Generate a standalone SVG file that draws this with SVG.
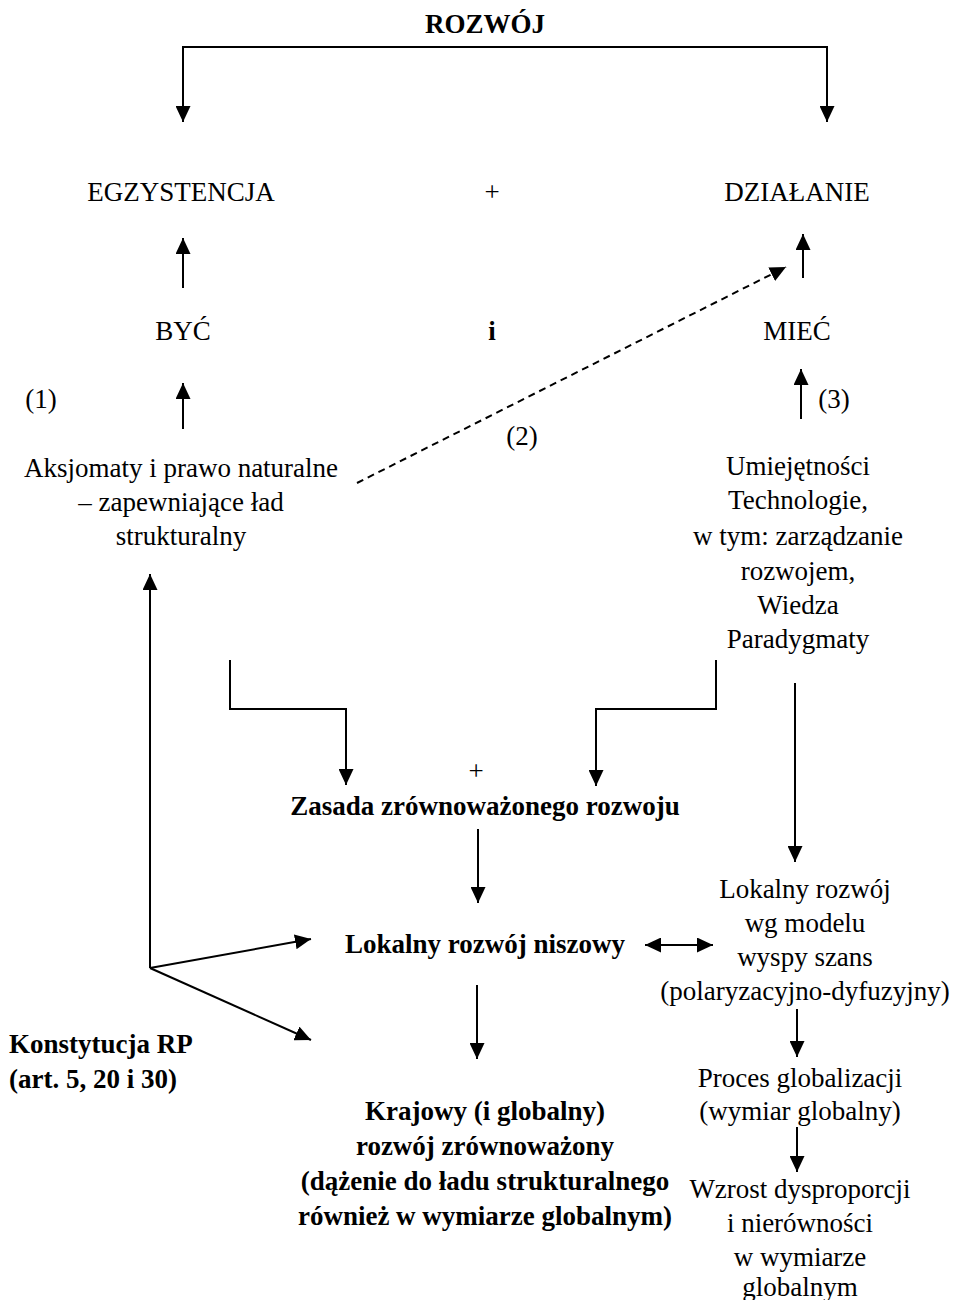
<svg xmlns="http://www.w3.org/2000/svg" width="954" height="1300" viewBox="0 0 954 1300">
<defs>
<marker id="ah" markerUnits="userSpaceOnUse" markerWidth="16" markerHeight="15" viewBox="0 0 16 15" refX="16" refY="7.5" orient="auto-start-reverse">
<path d="M0,0 L16,7.5 L0,15 Z" fill="#000"/>
</marker>
<style>
.t{font-family:"Liberation Serif","Times New Roman",serif;font-size:27px;fill:#000;text-anchor:middle}
.b{font-family:"Liberation Serif","Times New Roman",serif;font-size:27px;font-weight:bold;fill:#000;text-anchor:middle}
.l{fill:none;stroke:#000;stroke-width:2}
.a{fill:none;stroke:#000;stroke-width:2;marker-end:url(#ah)}
</style>
</defs>
<rect width="954" height="1300" fill="#fff"/>
<g id="connectors">
<path class="l" d="M183,47 H827" stroke-width="2.5"/>
<path class="a" d="M183,46 V122"/>
<path class="a" d="M827,46 V122"/>
<path class="a" d="M183,288 V238"/>
<path class="a" d="M803,278 V234"/>
<path class="a" d="M183,429 V383"/>
<path class="a" d="M801,419 V369"/>
<path class="a" d="M357,483 L786,267" stroke-dasharray="7,5"/>
<path class="a" d="M150,968 V574"/>
<path class="l" d="M230,660 V709 H346"/>
<path class="a" d="M346,708 V785"/>
<path class="l" d="M716,660 V709 H596"/>
<path class="a" d="M596,708 V786"/>
<path class="a" d="M795,683 V862"/>
<path class="a" d="M478,829 V903"/>
<path class="a" d="M645,945 H713" marker-start="url(#ah)"/>
<path class="a" d="M150,968 L311,939" stroke-width="1.6"/>
<path class="a" d="M150,968 L311,1040" stroke-width="1.6"/>
<path class="a" d="M477,985 V1059"/>
<path class="a" d="M797,1009 V1057"/>
<path class="a" d="M797,1127 V1172"/>
</g>
<g id="n-rozwoj"><text class="b" x="485" y="33">ROZWÓJ</text></g>
<g id="n-egzystencja"><text class="t" x="181" y="201">EGZYSTENCJA</text></g>
<g id="n-plus1"><text class="t" x="492" y="201">+</text></g>
<g id="n-dzialanie"><text class="t" x="797" y="201">DZIAŁANIE</text></g>
<g id="n-byc"><text class="t" x="183" y="340">BYĆ</text></g>
<g id="n-i"><text class="b" x="492" y="340">i</text></g>
<g id="n-miec"><text class="t" x="797" y="340">MIEĆ</text></g>
<g id="n-1"><text class="t" x="41" y="408">(1)</text></g>
<g id="n-2"><text class="t" x="522" y="445">(2)</text></g>
<g id="n-3"><text class="t" x="834" y="408">(3)</text></g>
<g id="n-aksjomaty">
<text class="t" x="181" y="477">Aksjomaty i prawo naturalne</text>
<text class="t" x="181" y="511">– zapewniające ład</text>
<text class="t" x="181" y="545">strukturalny</text>
</g>
<g id="n-umiejetnosci">
<text class="t" x="798" y="475">Umiejętności</text>
<text class="t" x="798" y="509">Technologie,</text>
<text class="t" x="798" y="545">w tym: zarządzanie</text>
<text class="t" x="798" y="580">rozwojem,</text>
<text class="t" x="798" y="614">Wiedza</text>
<text class="t" x="798" y="648">Paradygmaty</text>
</g>
<g id="n-plus2"><text class="t" x="476" y="780">+</text></g>
<g id="n-zasada"><text class="b" x="485" y="815">Zasada zrównoważonego rozwoju</text></g>
<g id="n-lokalny-niszowy"><text class="b" x="485" y="953">Lokalny rozwój niszowy</text></g>
<g id="n-lokalny-wyspy">
<text class="t" x="805" y="898">Lokalny rozwój</text>
<text class="t" x="805" y="932">wg modelu</text>
<text class="t" x="805" y="966">wyspy szans</text>
<text class="t" x="805" y="1000">(polaryzacyjno-dyfuzyjny)</text>
</g>
<g id="n-konstytucja">
<text class="b" x="9" y="1053" style="text-anchor:start">Konstytucja RP</text>
<text class="b" x="9" y="1088" style="text-anchor:start">(art. 5, 20 i 30)</text>
</g>
<g id="n-proces">
<text class="t" x="800" y="1087">Proces globalizacji</text>
<text class="t" x="800" y="1120">(wymiar globalny)</text>
</g>
<g id="n-wzrost">
<text class="t" x="800" y="1198">Wzrost dysproporcji</text>
<text class="t" x="800" y="1232">i nierówności</text>
<text class="t" x="800" y="1266">w wymiarze</text>
<text class="t" x="800" y="1296">globalnym</text>
</g>
<g id="n-krajowy">
<text class="b" x="485" y="1120">Krajowy (i globalny)</text>
<text class="b" x="485" y="1155">rozwój zrównoważony</text>
<text class="b" x="485" y="1190">(dążenie do ładu strukturalnego</text>
<text class="b" x="485" y="1225">również w wymiarze globalnym)</text>
</g>
</svg>
